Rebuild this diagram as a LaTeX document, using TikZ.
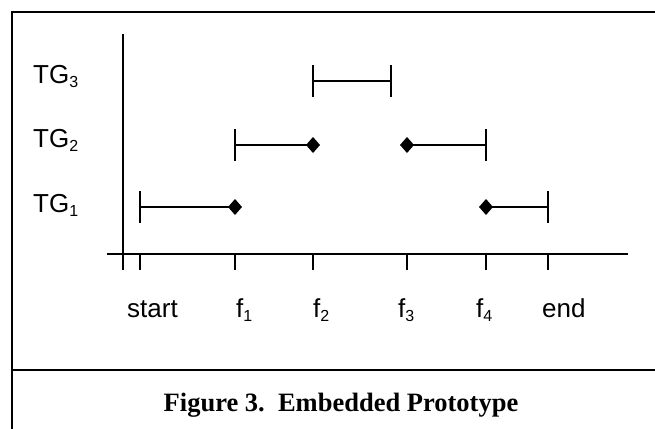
\documentclass[tikz,border=0pt]{standalone}
\usepackage{fontspec}
\setmainfont{Liberation Serif}
\setsansfont{Liberation Sans}
\newcommand{\lowidx}[1]{\raisebox{-4.5pt}{\fontsize{16}{16}\selectfont #1}}
\begin{document}
\begin{tikzpicture}[x=1pt,y=-1pt,
  axisline/.style={line width=1.8pt},
  bar/.style={line width=1.8pt},
  endcap/.style={line width=1.6pt},
  gem/.style={fill=black},
  axlabel/.style={font=\sffamily\fontsize{26}{26}\selectfont,inner sep=0pt,anchor=base west},
  rowlabel/.style={font=\sffamily\fontsize{26}{26}\selectfont,inner sep=0pt,anchor=base west},
  frame/.style={line width=2.6pt}]
\useasboundingbox (0,0) rectangle (655,428);
% outer frame and caption separator
\draw[frame] (12,440) -- (12,12) -- (670,12);
\draw[frame] (12,370) -- (670,370);
\node[font=\bfseries\fontsize{26.5}{26.5}\selectfont,inner sep=0pt,anchor=base] (caption) at (341,411) {Figure 3.\ \ Embedded Prototype};
% axes
\coordinate (ytop) at (123,34);
\coordinate (ybot) at (123,270);
\coordinate (xl) at (107,254);
\coordinate (xr) at (628,254);
\draw[axisline] (ytop) -- (ybot);
\draw[axisline] (xl) -- (xr);
% time ticks and labels
\foreach \n/\x/\t/\lx in {start/140/start/127, f1/235/f\lowidx{1}/236, f2/313/f\lowidx{2}/313, f3/407/f\lowidx{3}/398, f4/486/f\lowidx{4}/476, end/548/end/542}{
  \coordinate (t\n) at (\x,254);
  \coordinate (b\n) at (\x,270);
  \draw[axisline] (t\n) -- (b\n);
  \node[axlabel] (l\n) at (\lx,317) {\t};
}
% row labels
\node[rowlabel] (tg3) at (33,83) {TG\lowidx{3}};
\node[rowlabel] (tg2) at (33,147) {TG\lowidx{2}};
\node[rowlabel] (tg1) at (33,212) {TG\lowidx{1}};
% TG3
\coordinate (a3) at (313,81); \coordinate (b3) at (391,81);
\draw[bar] (a3) -- (b3);
\draw[endcap] (313,65) -- (313,97);
\draw[endcap] (391,65) -- (391,97);
% TG2
\coordinate (a2) at (235,145); \coordinate (b2) at (313,145);
\coordinate (c2) at (407,145); \coordinate (d2) at (486,145);
\draw[bar] (a2) -- (b2);
\draw[bar] (c2) -- (d2);
\draw[endcap] (235,129) -- (235,161);
\draw[endcap] (486,129) -- (486,161);
\fill[gem] (b2) ++(0,-8) -- ++(7,8) -- ++(-7,8) -- ++(-7,-8) -- cycle;
\fill[gem] (c2) ++(0,-8) -- ++(7,8) -- ++(-7,8) -- ++(-7,-8) -- cycle;
% TG1
\coordinate (a1) at (140,207); \coordinate (b1) at (235,207);
\coordinate (c1) at (486,207); \coordinate (d1) at (548,207);
\draw[bar] (a1) -- (b1);
\draw[bar] (c1) -- (d1);
\draw[endcap] (140,191) -- (140,223);
\draw[endcap] (548,191) -- (548,223);
\fill[gem] (b1) ++(0,-8) -- ++(7,8) -- ++(-7,8) -- ++(-7,-8) -- cycle;
\fill[gem] (c1) ++(0,-8) -- ++(7,8) -- ++(-7,8) -- ++(-7,-8) -- cycle;
\end{tikzpicture}
\end{document}
